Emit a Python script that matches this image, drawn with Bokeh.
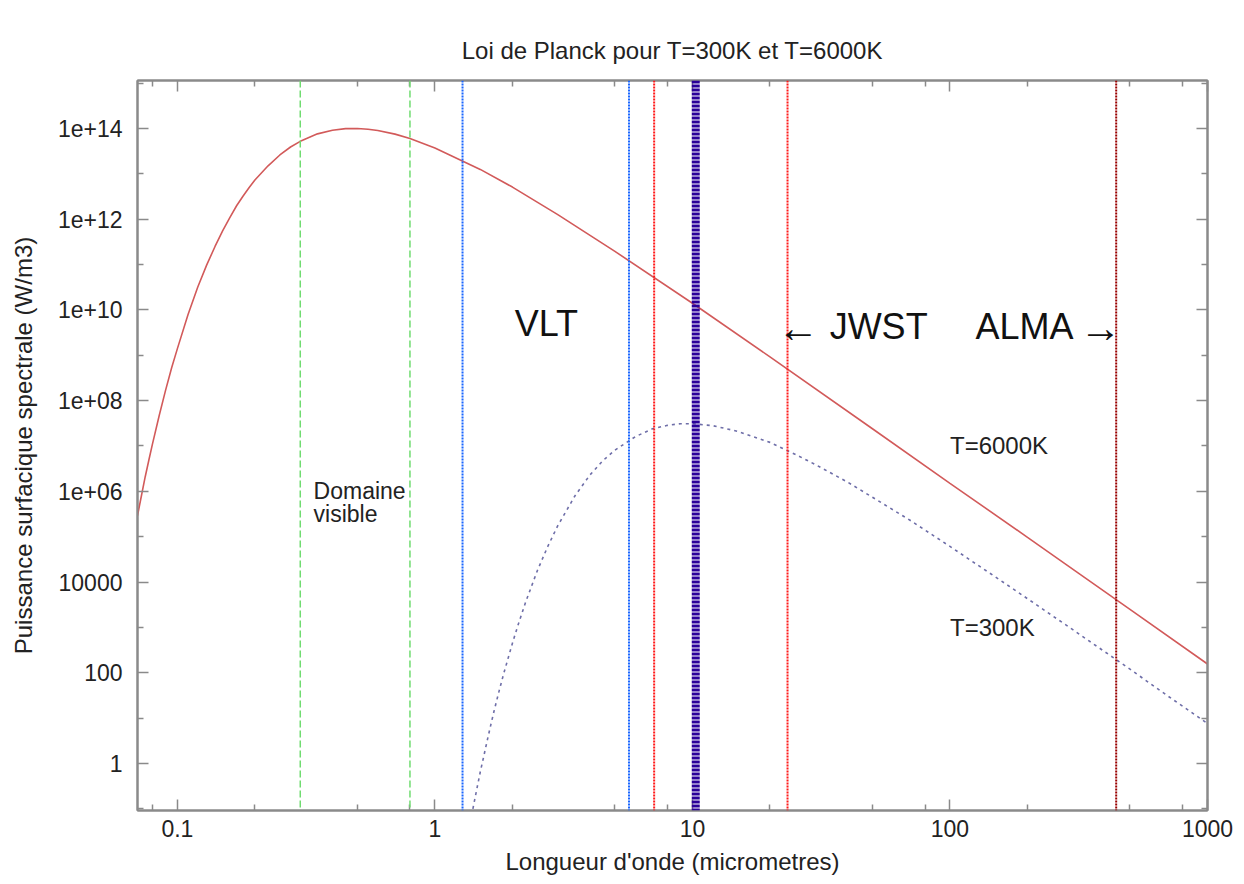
from bokeh.plotting import figure
from bokeh.models import Range1d, Span, Label, LogAxis, FixedTicker, CustomJSTickFormatter
from bokeh.embed import file_html
from bokeh.resources import INLINE

# ---- data ----
wavelength_6000 = [0.07, 0.0725, 0.075, 0.0775, 0.08, 0.085, 0.09, 0.095, 0.1, 0.11, 0.12, 0.13,
                   0.14, 0.15, 0.16, 0.17, 0.18, 0.19, 0.2, 0.225, 0.25, 0.275, 0.3, 0.35, 0.4,
                   0.45, 0.5, 0.55, 0.6, 0.7, 0.8, 1.0, 1.5, 2, 3, 5, 10, 20, 50, 100, 200, 500, 1000]
power_6000 = [2.9e5, 8.0e5, 2.1e6, 4.9e6, 1.1e7, 4.7e7, 1.7e8, 5.3e8, 1.4e9, 7.9e9, 3.2e10, 9.8e10,
              2.5e11, 5.6e11, 1.1e12, 2.0e12, 3.25e12, 5.0e12, 7.3e12, 1.5e13, 2.6e13, 3.9e13, 5.2e13,
              7.6e13, 9.1e13, 9.9e13, 1.0e14, 9.6e13, 9.0e13, 7.5e13, 6.0e13, 3.7e13, 1.25e13, 5.1e12,
              1.26e12, 1.95e11, 1.4e10, 9.2e8, 2.4e7, 1.5e6, 9.7e4, 2.5e3, 156]

wavelength_300 = [1.37, 1.4, 1.45, 1.5, 1.55, 1.6, 1.65, 1.7, 1.78, 1.85, 2, 2.1, 2.25, 2.5, 2.75,
                  3, 3.5, 4, 4.5, 5, 6, 7, 8, 9, 10, 12, 15, 20, 25, 30, 40, 50, 70, 100, 150,
                  200, 300, 500, 700, 1000]
power_300 = [0.05, 0.092, 0.25, 0.65, 1.5, 3.4, 7.3, 15, 42, 96, 450, 1.1e3, 3.6e3, 1.8e4, 6.3e4,
             1.75e5, 8.0e5, 2.3e6, 4.8e6, 8.1e6, 1.6e7, 2.4e7, 2.85e7, 3.1e7, 3.1e7, 2.8e7, 2.1e7,
             1.2e7, 6.6e6, 3.9e6, 1.6e6, 7.4e5, 2.3e5, 6.1e4, 1.3e4, 4.3e3, 890, 120, 31, 7.6]

visible_limits = [0.3, 0.8]          # green dashed
vlt_limits = [1.28, 5.67]            # blue dotted
jwst_limits = [7.1, 23.4]            # red dotted
peak_300 = [10.3]                    # thick navy dashed
alma_limit = [442]                   # dark red dotted

x_major = [0.1, 1, 10, 100, 1000]
x_minor = [0.08, 0.2, 0.5, 0.8, 2, 5, 8, 20, 50, 80, 200, 500, 800]
y_major = [1, 1e2, 1e4, 1e6, 1e8, 1e10, 1e12, 1e14]
y_minor = [0.1, 10, 1e3, 1e5, 1e7, 1e9, 1e11, 1e13, 1e15]

FONT = "Liberation Sans"
GRAY = "#8a8a8a"
TXT = "#222222"

p = figure(frame_width=1070, frame_height=730,
           min_border_left=137, min_border_right=37, min_border_top=80, min_border_bottom=74,
           x_axis_type="log", y_axis_type="log",
           x_range=Range1d(0.07, 1000), y_range=Range1d(0.092, 1.14e15),
           title="Loi de Planck pour T=300K et T=6000K",
           output_backend="svg", toolbar_location=None)
p.title.align = "center"
p.title.text_font = FONT
p.title.text_font_size = "24px"
p.title.text_font_style = "normal"
p.title.text_color = TXT
p.title.standoff = 34
p.background_fill_color = "white"
p.border_fill_color = "white"
p.xgrid.visible = False
p.ygrid.visible = False
p.outline_line_color = GRAY
p.outline_line_width = 2

xfmt = CustomJSTickFormatter(code="return tick < 1 ? tick.toFixed(1) : String(Math.round(tick));")
yfmt = CustomJSTickFormatter(code="""
const e = Math.round(Math.log10(tick));
if (e < 6) { return String(Math.round(tick)); }
return "1e+" + (e < 10 ? "0" + e : String(e));
""")

def style(ax, ticks, minor, labels=True):
    ax.ticker = FixedTicker(ticks=ticks, minor_ticks=minor)
    ax.axis_line_color = GRAY
    ax.axis_line_width = 2
    ax.major_tick_line_color = GRAY
    ax.minor_tick_line_color = GRAY
    ax.major_tick_line_width = 1.5
    ax.minor_tick_line_width = 1.5
    ax.major_tick_in = 11
    ax.major_tick_out = 0
    ax.minor_tick_in = 6
    ax.minor_tick_out = 0
    if labels:
        ax.major_label_text_font = FONT
        ax.major_label_text_font_size = "23px"
        ax.major_label_text_color = TXT
        ax.axis_label_text_font = FONT
        ax.axis_label_text_font_size = "24px"
        ax.axis_label_text_font_style = "normal"
        ax.axis_label_text_color = TXT
    else:
        ax.major_label_text_font_size = "0px"
        ax.major_label_text_color = None

xa = p.xaxis[0]
style(xa, x_major, x_minor)
xa.formatter = xfmt
xa.axis_label = "Longueur d'onde (micrometres)"
xa.major_label_standoff = 9
xa.axis_label_standoff = 8

ya = p.yaxis[0]
style(ya, y_major, y_minor)
ya.formatter = yfmt
ya.axis_label = "Puissance surfacique spectrale (W/m3)"
ya.major_label_standoff = 15
ya.axis_label_standoff = 18

top = LogAxis()
style(top, x_major, x_minor, labels=False)
p.add_layout(top, "above")
right = LogAxis()
style(right, y_major, y_minor, labels=False)
p.add_layout(right, "right")

# vertical marker lines
for v in visible_limits:
    p.add_layout(Span(location=v, dimension="height", line_color="#70dc70", line_width=1.5, line_dash="7 3"))
for v in vlt_limits:
    p.add_layout(Span(location=v, dimension="height", line_color="#1a66ff", line_width=2, line_dash="2 1"))
for v in jwst_limits:
    p.add_layout(Span(location=v, dimension="height", line_color="#ff1a1a", line_width=2, line_dash="2 1"))
for v in peak_300:
    p.add_layout(Span(location=v, dimension="height", line_color="#2a0099", line_width=8, line_dash="3 1"))
for v in alma_limit:
    p.add_layout(Span(location=v, dimension="height", line_color="#990000", line_width=2, line_dash="2 1"))

# curves
p.line(wavelength_6000, power_6000, line_color="#d25a5a", line_width=1.6)
p.line(wavelength_300, power_300, line_color="#6e6ea8", line_width=1.6, line_dash="3 4")

def lab(x, y, text, size="24px", align="left", color=TXT):
    p.add_layout(Label(x=x, y=y, text=text, text_font=FONT, text_font_size=size,
                       text_align=align, text_baseline="middle", text_color=color))

lab(0.338, 1.0e6, "Domaine", size="23px")
lab(0.338, 3.1e5, " visible", size="23px")
lab(100, 1e7, "T=6000K")
lab(100, 1e3, "T=300K")
lab(2.71, 5.0e9, "VLT", size="36px", align="center", color="#111111")
lab(21.3, 4.0e9, "\u2190", size="42px", align="left", color="#111111")
lab(34.1, 4.3e9, "JWST", size="36px", align="left", color="#111111")
lab(302, 4.3e9, "ALMA", size="36px", align="right", color="#111111")
lab(462, 4.0e9, "\u2192", size="42px", align="right", color="#111111")

open("out.html", "w").write(file_html(p, INLINE))
